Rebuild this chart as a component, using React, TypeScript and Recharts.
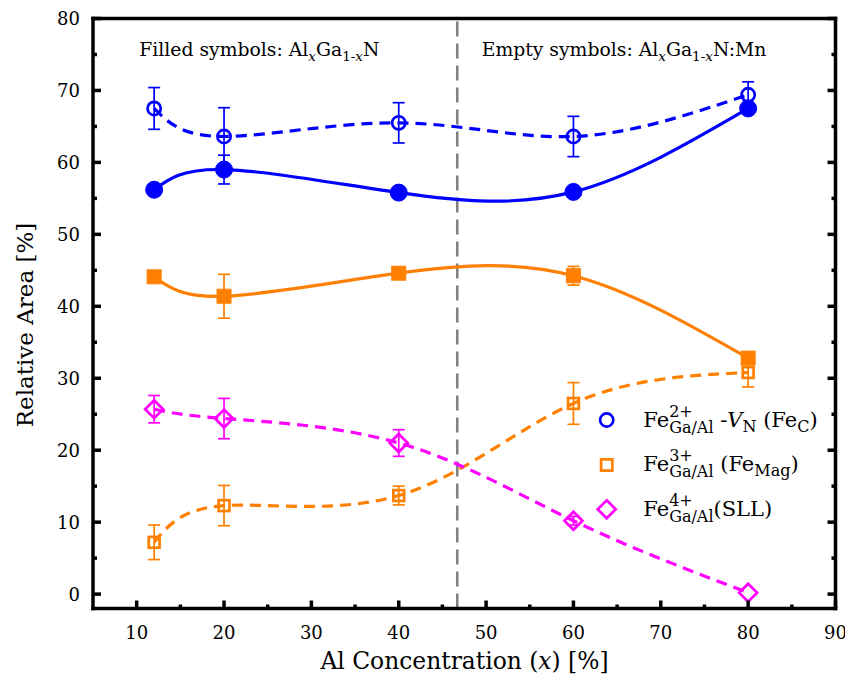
import React from "react";
import { LineChart, Line, XAxis, YAxis, ErrorBar, ReferenceLine } from "recharts";

// Al concentration (x) in %
const alConc = [12, 20, 40, 60, 80];

// filled symbols: AlxGa1-xN
const feCFilled = [56.2, 59.0, 55.8, 55.9, 67.5];
const feCFilledErr = [0, 2.0, 0, 0, 0];
const feMagFilled = [44.1, 41.4, 44.6, 44.25, 32.8];
const feMagFilledErr = [0, 3.05, 0.5, 1.3, 0];

// empty symbols: AlxGa1-xN:Mn
const feCEmpty = [67.5, 63.6, 65.5, 63.6, 69.4];
const feCEmptyErr = [2.9, 4.0, 2.8, 2.8, 1.8];
const feMagEmpty = [7.2, 12.3, 13.7, 26.5, 30.8];
const feMagEmptyErr = [2.4, 2.8, 1.3, 2.9, 2.0];
const sllEmpty = [25.7, 24.4, 21.0, 10.2, 0.2];
const sllEmptyErr = [1.9, 2.8, 1.85, 0.6, 0];

const xTicks = [10, 15, 20, 25, 30, 35, 40, 45, 50, 55, 60, 65, 70, 75, 80, 85, 90];
const yTicks = [0, 5, 10, 15, 20, 25, 30, 35, 40, 45, 50, 55, 60, 65, 70, 75, 80];
const boundaryX = 46.7;

const BLUE = "#0000ff";
const ORANGE = "#ff8000";
const MAGENTA = "#ff00ff";
const FONT = "DejaVu Serif";

const W = 845;
const H = 672;

const data = alConc.map((x, i) => ({
  x,
  feCFilled: feCFilled[i],
  feCFilledErr: feCFilledErr[i],
  feMagFilled: feMagFilled[i],
  feMagFilledErr: feMagFilledErr[i],
  feCEmpty: feCEmpty[i],
  feCEmptyErr: feCEmptyErr[i],
  feMagEmpty: feMagEmpty[i],
  feMagEmptyErr: feMagEmptyErr[i],
  sllEmpty: sllEmpty[i],
  sllEmptyErr: sllEmptyErr[i],
}));

// marker renderers
const circleDot = (color: string, filled: boolean) => (p: any) => (
  <circle
    key={`c-${p.index}`}
    cx={p.cx}
    cy={p.cy}
    r={filled ? 8.5 : 6.6}
    fill={filled ? color : "none"}
    stroke={color}
    strokeWidth={filled ? 1 : 2.7}
  />
);

const squareDot = (color: string, filled: boolean) => (p: any) => {
  const s = filled ? 14 : 10.8;
  return (
    <rect
      key={`s-${p.index}`}
      x={p.cx - s / 2}
      y={p.cy - s / 2}
      width={s}
      height={s}
      fill={filled ? color : "none"}
      stroke={color}
      strokeWidth={filled ? 1 : 2.7}
    />
  );
};

const diamondDot = (color: string) => (p: any) => {
  const h = 9;
  return (
    <path
      key={`d-${p.index}`}
      d={`M${p.cx},${p.cy - h} L${p.cx + h},${p.cy} L${p.cx},${p.cy + h} L${p.cx - h},${p.cy} Z`}
      fill="none"
      stroke={color}
      strokeWidth={2.7}
    />
  );
};

// ticks point inward, minor every 5
const bottomTick = (p: any) => {
  const v = p.payload.value;
  const major = v % 10 === 0;
  return (
    <g key={`bt-${v}`}>
      <line x1={p.x} x2={p.x} y1={p.y} y2={p.y - (major ? 8 : 4)} stroke="#000" strokeWidth={3.5} />
      {major && (
        <text x={p.x} y={p.y + 30} textAnchor="middle" fontFamily={FONT} fontSize={18} fill="#000">
          {v}
        </text>
      )}
    </g>
  );
};

const topTick = (p: any) => {
  const v = p.payload.value;
  const major = v % 10 === 0;
  return (
    <line key={`tt-${v}`} x1={p.x} x2={p.x} y1={p.y} y2={p.y + (major ? 8 : 4)} stroke="#000" strokeWidth={3.5} />
  );
};

const leftTick = (p: any) => {
  const v = p.payload.value;
  const major = v % 10 === 0;
  return (
    <g key={`lt-${v}`}>
      <line x1={p.x} x2={p.x + (major ? 8 : 4)} y1={p.y} y2={p.y} stroke="#000" strokeWidth={3.5} />
      {major && (
        <text x={p.x - 13} y={p.y + 6.5} textAnchor="end" fontFamily={FONT} fontSize={18} fill="#000">
          {v}
        </text>
      )}
    </g>
  );
};

const rightTick = (p: any) => {
  const v = p.payload.value;
  const major = v % 10 === 0;
  return (
    <line key={`rt-${v}`} x1={p.x} x2={p.x - (major ? 8 : 4)} y1={p.y} y2={p.y} stroke="#000" strokeWidth={3.5} />
  );
};

const axisLine = { stroke: "#000", strokeWidth: 3.5, strokeLinecap: "square" as const };

const SUB = 13.5;
const SCRIPT = 16;
const SUP_BACK = -23.6; // width of "2+" at SCRIPT size

function Overlay() {
  return (
    <svg
      width={W}
      height={H}
      fontFamily={FONT}
      fill="#000"
      style={{ position: "absolute", left: 0, top: 0, pointerEvents: "none" }}
    >
      {/* annotations */}
      <text x={131.3} y={48} fontSize={18.8}>
        Filled symbols: Al
        <tspan dy={5} fontSize={SUB} fontStyle="italic">x</tspan>
        <tspan dy={-5}>Ga</tspan>
        <tspan dy={5} fontSize={SUB}>
          1-<tspan fontStyle="italic">x</tspan>
        </tspan>
        <tspan dy={-5}>N</tspan>
      </text>
      <text x={473.7} y={48} fontSize={18.8}>
        Empty symbols: Al
        <tspan dy={5} fontSize={SUB} fontStyle="italic">x</tspan>
        <tspan dy={-5}>Ga</tspan>
        <tspan dy={5} fontSize={SUB}>
          1-<tspan fontStyle="italic">x</tspan>
        </tspan>
        <tspan dy={-5}>N:Mn</tspan>
      </text>

      {/* axis titles */}
      <text x={456.5} y={661.3} fontSize={23.4} textAnchor="middle">
        Al Concentration (<tspan fontStyle="italic">x</tspan>) [%]
      </text>
      <text transform="rotate(-90)" x={-317} y={25} fontSize={23} textAnchor="middle">
        Relative Area [%]
      </text>

      {/* legend */}
      <circle cx={598.7} cy={412} r={6.6} fill="none" stroke={BLUE} strokeWidth={2.7} />
      <rect x={598.7 - 5.6} y={457 - 5.6} width={11.2} height={11.2} fill="none" stroke={ORANGE} strokeWidth={2.7} />
      <path
        d={`M598.7,${501.3 - 9} L${598.7 + 9},501.3 L598.7,${501.3 + 9} L${598.7 - 9},501.3 Z`}
        fill="none"
        stroke={MAGENTA}
        strokeWidth={2.7}
      />
      <text x={635.3} y={418.7} fontSize={21}>
        Fe
        <tspan dy={-10} fontSize={SCRIPT}>2+</tspan>
        <tspan dx={SUP_BACK} dy={16} fontSize={SCRIPT}>Ga/Al</tspan>
        <tspan dy={-6}> -</tspan>
        <tspan fontStyle="italic">V</tspan>
        <tspan dy={5} fontSize={SCRIPT}>N</tspan>
        <tspan dy={-5}> (Fe</tspan>
        <tspan dy={5} fontSize={SCRIPT}>C</tspan>
        <tspan dy={-5}>)</tspan>
      </text>
      <text x={635.3} y={463.4} fontSize={21}>
        Fe
        <tspan dy={-10} fontSize={SCRIPT}>3+</tspan>
        <tspan dx={SUP_BACK} dy={16} fontSize={SCRIPT}>Ga/Al</tspan>
        <tspan dy={-6}> (Fe</tspan>
        <tspan dy={5} fontSize={SCRIPT}>Mag</tspan>
        <tspan dy={-5}>)</tspan>
      </text>
      <text x={635.3} y={508} fontSize={21}>
        Fe
        <tspan dy={-10} fontSize={SCRIPT}>4+</tspan>
        <tspan dx={SUP_BACK} dy={16} fontSize={SCRIPT}>Ga/Al</tspan>
        <tspan dy={-6}>(SLL)</tspan>
      </text>
    </svg>
  );
}

export default function App() {
  return (
    <div style={{ position: "relative", width: W, height: H }}>
      <LineChart
        width={W}
        height={H}
        data={data}
        margin={{ top: 9.5, right: 16.5, bottom: 0, left: 0 }}
      >
        <XAxis
          dataKey="x"
          type="number"
          domain={[5, 90]}
          ticks={xTicks}
          interval={0}
          height={71.5}
          tickSize={0}
          tickMargin={0}
          tick={bottomTick}
          axisLine={axisLine}
          allowDataOverflow
        />
        <XAxis
          xAxisId="top"
          orientation="top"
          type="number"
          domain={[5, 90]}
          ticks={xTicks}
          interval={0}
          height={1}
          tickSize={0}
          tickMargin={0}
          tick={topTick}
          axisLine={axisLine}
          allowDataOverflow
        />
        <YAxis
          type="number"
          domain={[-2, 80]}
          ticks={yTicks}
          interval={0}
          width={85}
          tickSize={0}
          tickMargin={0}
          tick={leftTick}
          axisLine={axisLine}
          allowDataOverflow
        />
        <YAxis
          yAxisId="right"
          orientation="right"
          type="number"
          domain={[-2, 80]}
          ticks={yTicks}
          interval={0}
          width={1}
          tickSize={0}
          tickMargin={0}
          tick={rightTick}
          axisLine={axisLine}
          allowDataOverflow
        />

        <ReferenceLine x={boundaryX} stroke="#808080" strokeWidth={2.6} strokeDasharray="15 7" />

        <Line
          dataKey="feCEmpty"
          type="natural"
          stroke={BLUE}
          strokeWidth={3.2}
          strokeDasharray="11 7"
          dot={circleDot(BLUE, false)}
          activeDot={false}
          isAnimationActive={false}
        >
          <ErrorBar dataKey="feCEmptyErr" width={6} stroke={BLUE} strokeWidth={1.7} direction="y" />
        </Line>
        <Line
          dataKey="feMagEmpty"
          type="natural"
          stroke={ORANGE}
          strokeWidth={3.2}
          strokeDasharray="11 7"
          dot={squareDot(ORANGE, false)}
          activeDot={false}
          isAnimationActive={false}
        >
          <ErrorBar dataKey="feMagEmptyErr" width={6} stroke={ORANGE} strokeWidth={1.7} direction="y" />
        </Line>
        <Line
          dataKey="sllEmpty"
          type="natural"
          stroke={MAGENTA}
          strokeWidth={3.2}
          strokeDasharray="11 7"
          dot={diamondDot(MAGENTA)}
          activeDot={false}
          isAnimationActive={false}
        >
          <ErrorBar dataKey="sllEmptyErr" width={6} stroke={MAGENTA} strokeWidth={1.7} direction="y" />
        </Line>
        <Line
          dataKey="feMagFilled"
          type="natural"
          stroke={ORANGE}
          strokeWidth={3.2}
          dot={squareDot(ORANGE, true)}
          activeDot={false}
          isAnimationActive={false}
        >
          <ErrorBar dataKey="feMagFilledErr" width={6} stroke={ORANGE} strokeWidth={1.7} direction="y" />
        </Line>
        <Line
          dataKey="feCFilled"
          type="natural"
          stroke={BLUE}
          strokeWidth={3.2}
          dot={circleDot(BLUE, true)}
          activeDot={false}
          isAnimationActive={false}
        >
          <ErrorBar dataKey="feCFilledErr" width={6} stroke={BLUE} strokeWidth={1.7} direction="y" />
        </Line>
      </LineChart>
      <Overlay />
    </div>
  );
}
